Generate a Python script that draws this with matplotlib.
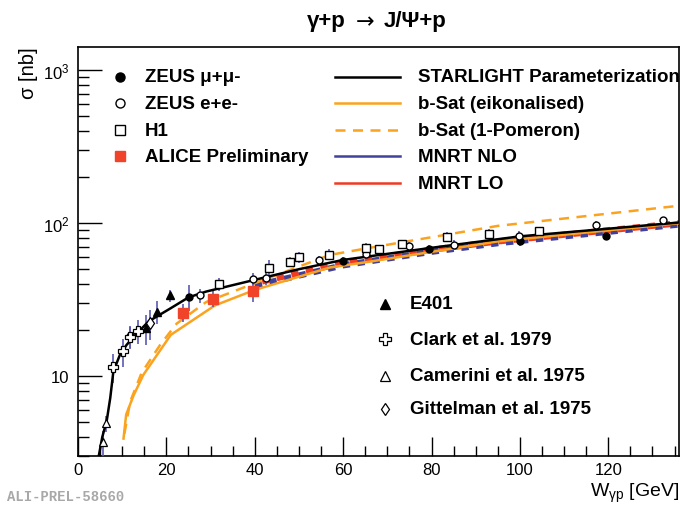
import numpy as np
import matplotlib.pyplot as plt
from matplotlib.ticker import FixedLocator, FixedFormatter, MultipleLocator

plt.rcParams['font.family'] = ['Liberation Sans', 'DejaVu Sans']
plt.rcParams['mathtext.fontset'] = 'custom'
plt.rcParams['mathtext.rm'] = 'Liberation Sans'
plt.rcParams['mathtext.it'] = 'Liberation Sans'
plt.rcParams['mathtext.bf'] = 'Liberation Sans:bold'

# ---------------- model curves (W in GeV, sigma in nb) ----------------
starlight_w = [4.7, 5.5, 6.5, 7.3, 8.0, 9.5, 11, 13, 16, 21, 25, 29, 40, 50, 60, 80, 100, 120, 136]
starlight_s = [3.0, 4.0, 5.1, 7.2, 10.7, 13.8, 16.0, 18.6, 22.8, 27.8, 32.7, 35.7, 42.6, 50, 57.5, 69, 82, 92, 101]

bsat_eik_w = [10.3, 10.9, 12.6, 14.8, 21, 31, 40, 57, 66, 95, 136]
bsat_eik_s = [3.9, 5.6, 7.5, 10.2, 18.6, 29, 36.6, 51.3, 56, 76, 100]

bsat_pom_w = [10.5, 11.8, 14.4, 18.6, 22.3, 29, 40, 57, 66, 95, 136]
bsat_pom_s = [4.2, 6.8, 10.5, 16, 22, 30.5, 40.5, 62, 69, 96, 130]

mnrt_w = [40, 60, 80, 95, 136]
mnrt_nlo_s = [39, 53, 65, 74, 98]
mnrt_lo_s = [40.5, 55, 67, 76, 100]

# ---------------- data points ----------------
zeus_mm_w = [11.7, 25.2, 59.9, 79.5, 100, 119.5]
zeus_mm_s = [18.3, 33.0, 56.5, 68, 76, 83]
zeus_mm_e = [3.0, 6.5, 3.5, 4, 5, 5]

zeus_ee_w = [27.6, 39.6, 42.6, 54.6, 65.2, 75, 85, 99.8, 117.2, 132.3]
zeus_ee_s = [33.7, 43.4, 43.6, 57.2, 63, 70.5, 72.4, 82.8, 96.8, 104.3]
zeus_ee_e = [3.5, 4, 4, 4, 5, 5, 5, 6, 6, 6]

h1_w = [32, 43.3, 47.9, 50.1, 56.9, 65.2, 68.2, 73.4, 83.4, 93, 104.4]
h1_s = [39.8, 51, 55.7, 60, 62.3, 68.5, 67.5, 73, 81.2, 85.4, 88.5]
h1_e = [4, 6, 4, 5, 5, 6, 5, 5, 6, 6, 6]

alice_w = [23.8, 30.5, 39.6]
alice_s = [26, 32.1, 36.2]
alice_e = [3.5, 4, 5.5]

e401_w = [15.3, 17.8, 20.8]
e401_s = [20.5, 26.3, 33.7]
e401_e = [4.5, 4.5, 3]

clark_w = [7.9, 10.1, 11.8, 13.6]
clark_s = [11.5, 14.5, 18.0, 19.7]
clark_e = [2.5, 3.0, 3.0, 3.5]

camerini_w = [5.6, 6.4]
camerini_s = [3.7, 4.9]
camerini_e = [0.7, 0.6]

gittelman_w = [16.4]
gittelman_s = [22.2]
gittelman_e = [5]

orange = '#fba31f'
blue_err = '#5a5ab4'
alice_red = '#f1422a'
nlo_blue = '#41419c'
lo_red = '#ee3b24'

fig = plt.figure(figsize=(6.8, 5.06), dpi=100)
ax = fig.add_axes([78 / 680, 49 / 506, 601 / 680, 409 / 506])

# MNRT bands (stippled look)
ax.plot(mnrt_w, mnrt_nlo_s, color=nlo_blue, lw=4.5, ls=(0, (1.2, 1.2)), zorder=2)
ax.plot(mnrt_w, mnrt_lo_s, color=lo_red, lw=4.5, ls=(1.2, (1.2, 1.2)), zorder=2)

ax.plot(bsat_eik_w, bsat_eik_s, color=orange, lw=1.8, zorder=3)
ax.plot(bsat_pom_w, bsat_pom_s, color=orange, lw=1.8, ls=(0, (4, 3)), zorder=3)
ax.plot(starlight_w, starlight_s, color='black', lw=1.8, zorder=4)

# error bars
err_kw = dict(fmt='none', ecolor=blue_err, elinewidth=1.2, capsize=0, zorder=3)
for w, s, e in [(zeus_mm_w, zeus_mm_s, zeus_mm_e), (zeus_ee_w, zeus_ee_s, zeus_ee_e),
                (h1_w, h1_s, h1_e), (alice_w, alice_s, alice_e), (e401_w, e401_s, e401_e),
                (clark_w, clark_s, clark_e), (camerini_w, camerini_s, camerini_e),
                (gittelman_w, gittelman_s, gittelman_e)]:
    ax.errorbar(w, s, yerr=e, **err_kw)

ax.plot(zeus_mm_w, zeus_mm_s, 'o', color='black', ms=5, zorder=5)
ax.plot(zeus_ee_w, zeus_ee_s, 'o', mfc='white', mec='black', mew=1, ms=5, zorder=5)
ax.plot(h1_w, h1_s, 's', mfc='white', mec='black', mew=1, ms=6, zorder=5)
ax.plot(alice_w, alice_s, 's', color=alice_red, ms=7, zorder=6)
ax.plot(e401_w, e401_s, '^', color='black', ms=5.5, zorder=5)
ax.plot(clark_w, clark_s, 'P', mfc='white', mec='black', mew=0.9, ms=7, zorder=5)
ax.plot(camerini_w, camerini_s, '^', mfc='white', mec='black', mew=0.9, ms=6, zorder=5)
ax.plot(gittelman_w, gittelman_s, 'd', mfc='white', mec='black', mew=0.9, ms=6, zorder=5)

ax.set_yscale('log')
ax.set_xlim(0, 136)
ax.set_ylim(3, 1420)

ax.xaxis.set_major_locator(MultipleLocator(20))
ax.xaxis.set_minor_locator(MultipleLocator(5))
ax.yaxis.set_major_locator(FixedLocator([10, 100, 1000]))
ax.yaxis.set_major_formatter(FixedFormatter(['10', '$10^2$', '$10^3$']))
ax.tick_params(which='both', direction='in', top=False, right=False, labelsize=12)
ax.tick_params(axis='y', which='major', length=17, width=1, pad=6)
ax.tick_params(axis='y', which='minor', length=8, width=1)
ax.tick_params(axis='x', which='major', length=14, width=1, pad=4)
ax.tick_params(axis='x', which='minor', length=7, width=1)
ax.tick_params(axis='y', which='minor', labelleft=False)
for sp in ax.spines.values():
    sp.set_linewidth(1.2)

# title in three pieces so the arrow gets a full-size glyph
ty = 1 - 22 / 506
fig.text(346 / 680, ty, 'γ+p', ha='right', va='center', fontsize=16, fontweight='bold')
fig.text(365 / 680, ty, '→', ha='center', va='center', fontsize=16, family='DejaVu Sans')
fig.text(384 / 680, ty, 'J/Ψ+p', ha='left', va='center', fontsize=16, fontweight='bold')

fig.text(28 / 680, 1 - 47 / 506, 'σ [nb]', rotation=90, ha='center', va='top', fontsize=14.5)
fig.text(679 / 680, 1 - 493 / 506, r'W$_{\gamma p}$ [GeV]', ha='right', va='center', fontsize=14)
fig.text(7 / 680, 1 - 497 / 506, 'ALI-PREL-58660', ha='left', va='center', fontsize=10,
         family='Liberation Mono', fontweight='bold', color='#a8a8a8')

# ---------------- legends (axes coordinates) ----------------
tr = ax.transAxes
leg_font = dict(fontsize=13.5, fontweight='bold', va='center', transform=tr)

left_rows = [0.927, 0.863, 0.797, 0.733]
left_items = [('ZEUS μ+μ-', dict(marker='o', color='black', ms=6.5)),
              ('ZEUS e+e-', dict(marker='o', mfc='white', mec='black', ms=6.5)),
              ('H1', dict(marker='s', mfc='white', mec='black', ms=6.5)),
              ('ALICE Preliminary', dict(marker='s', color=alice_red, mec=alice_red, ms=6.5))]
for yy, (lab, mk) in zip(left_rows, left_items):
    ax.plot([0.0699], [yy], transform=tr, ls='none', clip_on=False, **mk)
    ax.text(0.111, yy, lab, **leg_font)

right_rows = [0.927, 0.863, 0.797, 0.733, 0.667]
right_items = [('STARLIGHT Parameterization', dict(color='black', ls='-')),
               ('b-Sat (eikonalised)', dict(color=orange, ls='-')),
               ('b-Sat (1-Pomeron)', dict(color=orange, ls=(0, (4, 3)))),
               ('MNRT NLO', dict(color=nlo_blue, ls='-')),
               ('MNRT LO', dict(color=lo_red, ls='-'))]
for yy, (lab, st) in zip(right_rows, right_items):
    ax.plot([0.428, 0.536], [yy, yy], transform=tr, lw=1.8, **st)
    ax.text(0.566, yy, lab, **leg_font)

low_rows = [0.372, 0.286, 0.196, 0.115]
low_items = [('E401', dict(marker='^', color='black', ms=6.5)),
             ('Clark et al. 1979', dict(marker='P', mfc='white', mec='black', ms=8, mew=0.9)),
             ('Camerini et al. 1975', dict(marker='^', mfc='white', mec='black', ms=7, mew=0.9)),
             ('Gittelman et al. 1975', dict(marker='d', mfc='white', mec='black', ms=6.5, mew=0.9))]
for yy, (lab, mk) in zip(low_rows, low_items):
    ax.plot([0.511], [yy], transform=tr, ls='none', **mk)
    ax.text(0.552, yy, lab, **leg_font)

fig.savefig('out.png', dpi=100)
